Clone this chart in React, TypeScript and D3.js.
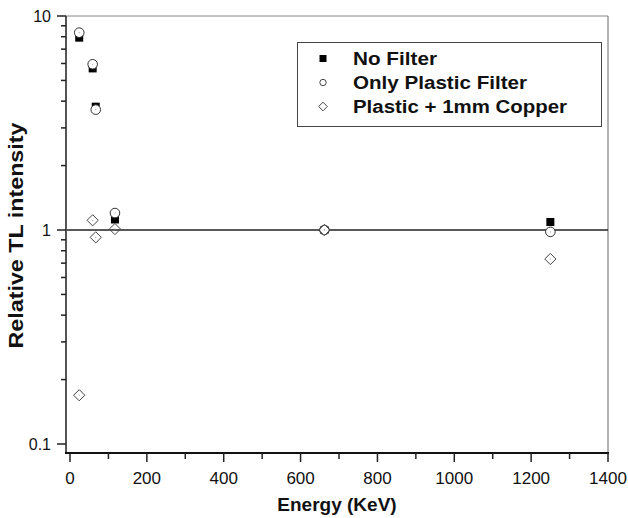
import React from "react";
import * as d3 from "d3";

const energies = [24, 59, 67, 117, 662, 1250];
const noFilter = [7.92, 5.69, 3.77, 1.12, 1.0, 1.09];
const plasticOnly = [8.36, 5.95, 3.65, 1.2, 1.0, 0.98];
const plasticCopper = [0.169, 1.11, 0.924, 1.01, 1.0, 0.732];
const xTicks = [0, 200, 400, 600, 800, 1000, 1200, 1400];
const yTickLabels = ["0.1", "1", "10"];
const legendLabels = ["No Filter", "Only Plastic Filter", "Plastic + 1mm Copper"];

const W = 628;
const H = 518;
const L = 66, R = 608, T = 16, B = 453;
const FONT = "Liberation Sans, Arial, sans-serif";
const legendWidths = [84, 174, 214];

export default function App() {
  const x = d3.scaleLinear().domain([-10.4, 1400]).range([L, R]);
  const y = d3.scaleLog().domain([10 ** (-1 - 9 / 214), 10]).range([B, T]);

  const minorX = d3.range(100, 1400, 200);
  const yMajor = [0.1, 1, 10];
  const yMinor: number[] = [];
  [0.1, 1].forEach((d) => {
    for (let k = 2; k <= 9; k++) yMinor.push(d * k);
  });

  const sq = 8;
  const cr = 4.8;
  const dm = 5.6;
  const diamond = (cx: number, cy: number, s: number) =>
    `M${cx},${cy - s}L${cx + s},${cy}L${cx},${cy + s}L${cx - s},${cy}Z`;

  return (
    <svg width={W} height={H} style={{ position: "absolute", left: 0, top: 0 }} fontFamily={FONT}>
      <rect x={0} y={0} width={W} height={H} fill="#fff" />
      {/* frame */}
      <line x1={L} y1={T} x2={R} y2={T} stroke="#888" strokeWidth={1} />
      <line x1={R} y1={T} x2={R} y2={B} stroke="#666" strokeWidth={1} />
      {/* reference line at 1 */}
      <line x1={L} y1={y(1)} x2={R} y2={y(1)} stroke="#222" strokeWidth={1.3} />
      {/* y axis */}
      <line x1={L} y1={T} x2={L} y2={B + 1} stroke="#555" strokeWidth={2} />
      {yMajor.map((v) => (
        <line key={"ym" + v} x1={L - 9} x2={L} y1={y(v)} y2={y(v)} stroke="#222" strokeWidth={1.5} />
      ))}
      {yMinor.map((v) => (
        <line key={"yn" + v} x1={L - 5} x2={L} y1={y(v)} y2={y(v)} stroke="#222" strokeWidth={1.5} />
      ))}
      {yMajor.map((v, i) => (
        <text key={"yl" + v} x={L - 15} y={y(v) + 5.5} textAnchor="end" fontSize={16} fill="#111">
          {yTickLabels[i]}
        </text>
      ))}
      {/* x axis */}
      <line x1={L - 1} y1={B} x2={R + 1} y2={B} stroke="#111" strokeWidth={2} />
      {xTicks.map((v) => (
        <line key={"xm" + v} x1={x(v)} x2={x(v)} y1={B} y2={B + 9} stroke="#222" strokeWidth={1.5} />
      ))}
      {minorX.map((v) => (
        <line key={"xn" + v} x1={x(v)} x2={x(v)} y1={B} y2={B + 6} stroke="#222" strokeWidth={1.5} />
      ))}
      {xTicks.map((v) => (
        <text key={"xl" + v} x={x(v)} y={484} textAnchor="middle" fontSize={17} fill="#111">
          {String(v)}
        </text>
      ))}
      {/* titles */}
      <text x={(L + R) / 2} y={511} textAnchor="middle" fontSize={19} fontWeight="bold" fill="#111">
        Energy (KeV)
      </text>
      <text
        transform={`translate(23,${(T + B) / 2 + 1}) rotate(-90)`}
        textAnchor="middle"
        fontSize={21}
        fontWeight="bold"
        fill="#111"
        textLength={226}
        lengthAdjust="spacingAndGlyphs"
      >
        Relative TL intensity
      </text>
      {/* data */}
      {energies.map((e, i) => (
        <rect key={"s" + i} x={x(e) - sq / 2} y={y(noFilter[i]) - sq / 2} width={sq} height={sq} fill="#000" />
      ))}
      {energies.map((e, i) => (
        <g key={"c" + i}>
          <circle cx={x(e)} cy={y(plasticOnly[i])} r={cr} fill="#fff" stroke="#333" strokeWidth={1} />
          <rect x={x(e) - 0.5} y={y(plasticOnly[i]) - 0.5} width={1} height={1} fill="#999" />
        </g>
      ))}
      {energies.map((e, i) => (
        <g key={"d" + i}>
          <path d={diamond(x(e), y(plasticCopper[i]), dm)} fill="none" stroke="#444" strokeWidth={1} />
          <rect x={x(e) - 0.5} y={y(plasticCopper[i]) - 0.5} width={1} height={1} fill="#999" />
        </g>
      ))}
      {/* legend */}
      <rect x={297.5} y={42.5} width={304} height={84} fill="#fff" stroke="#444" strokeWidth={1} />
      <rect x={323 - 3.5} y={58.5 - 3.5} width={7} height={7} fill="#000" />
      <circle cx={323} cy={82.5} r={3.2} fill="#fff" stroke="#444" strokeWidth={1} />
      <path d={diamond(323, 106.5, 4.3)} fill="none" stroke="#444" strokeWidth={1} />
      {legendLabels.map((t, i) => (
        <text
          key={t}
          x={353}
          y={64.5 + i * 24}
          fontSize={18}
          fontWeight="bold"
          fill="#111"
          textLength={legendWidths[i]}
          lengthAdjust="spacingAndGlyphs"
        >
          {t}
        </text>
      ))}
    </svg>
  );
}
